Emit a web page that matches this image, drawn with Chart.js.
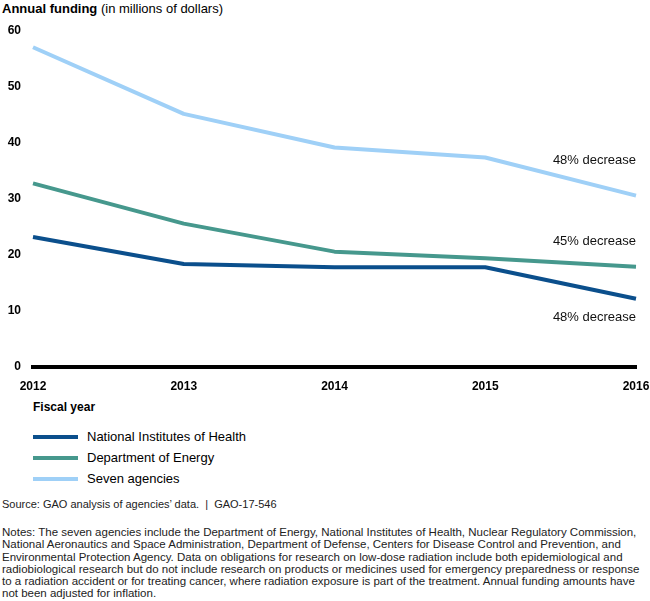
<!DOCTYPE html>
<html>
<head>
<meta charset="utf-8">
<script src="https://cdn.jsdelivr.net/npm/chart.js@4.4.1/dist/chart.umd.min.js"></script>
<style>
  body { margin: 0; width: 650px; height: 601px; position: relative; background: #fff;
         font-family: Arial, 'Liberation Sans', sans-serif; color: #000; overflow: hidden; }
  #wrap { position: absolute; left: 0; top: 0; width: 650px; height: 400px; }
  .title { position: absolute; left: 2px; top: 1px; font-size: 13px; }
  .xtitle { position: absolute; left: 33px; top: 400px; font-size: 12px; font-weight: bold; }
  .legend { position: absolute; left: 33px; top: 428px; font-size: 13px; }
  .legend div { height: 21px; line-height: 18px; }
  .legend span { display: inline-block; width: 45px; height: 4px; vertical-align: middle; margin-right: 9px; position: relative; top: -1px; }
  .source { position: absolute; left: 2px; top: 498px; font-size: 11px; color: #222; }
  .notes { position: absolute; left: 2px; top: 526px; font-size: 11.5px; line-height: 12.3px; color: #222; white-space: nowrap; }
</style>
</head>
<body>
<div class="title"><b>Annual funding</b> (in millions of dollars)</div>
<div id="wrap"><canvas id="chart" width="650" height="400"></canvas></div>
<div class="xtitle">Fiscal year</div>
<div class="legend" id="legend"></div>
<div class="source">Source: GAO analysis of agencies’ data. &nbsp;|&nbsp; GAO-17-546</div>
<div class="notes">Notes: The seven agencies include the Department of Energy, National Institutes of Health, Nuclear Regulatory Commission,<br>National Aeronautics and Space Administration, Department of Defense, Centers for Disease Control and Prevention, and<br>Environmental Protection Agency. Data on obligations for research on low-dose radiation include both epidemiological and<br>radiobiological research but do not include research on products or medicines used for emergency preparedness or response<br>to a radiation accident or for treating cancer, where radiation exposure is part of the treatment. Annual funding amounts have<br>not been adjusted for inflation.</div>

<script>
// data
const years = ['2012', '2013', '2014', '2015', '2016']
const nih = [23.2, 18.4, 17.8, 17.8, 12.2]
const doe = [32.8, 25.6, 20.6, 19.4, 17.9]
const sevenAgencies = [57.1, 45.2, 39.2, 37.4, 30.6]
const seriesNames = ['National Institutes of Health', 'Department of Energy', 'Seven agencies']
const decreases = ['48% decrease', '45% decrease', '48% decrease']
const yTicks = [0, 10, 20, 30, 40, 50, 60]

const colors = ['#0b4f8c', '#46988d', '#9fd0f7']

// legend in html
var legend = document.getElementById('legend')
seriesNames.forEach(function (name, i) {
  var row = document.createElement('div')
  row.innerHTML = '<span style="background:' + colors[i] + '"></span>' + name
  legend.appendChild(row)
})

// "xx% decrease" labels next to the last point of each line
const decreaseLabels = {
  id: 'decreaseLabels',
  afterDatasetsDraw(chart) {
    const ctx = chart.ctx
    const x = chart.scales.x
    const y = chart.scales.y
    const offsets = [19, -25, -35] // below / above the end point
    ctx.save()
    ctx.font = '13px Arial, "Liberation Sans", sans-serif'
    ctx.fillStyle = '#111'
    ctx.textAlign = 'right'
    ctx.textBaseline = 'middle'
    chart.data.datasets.forEach(function (ds, i) {
      const last = ds.data.length - 1
      ctx.fillText(decreases[i], x.getPixelForValue(last), y.getPixelForValue(ds.data[last]) + offsets[i])
    })
    ctx.restore()
  }
}

const chart = new Chart(document.getElementById('chart'), {
  type: 'line',
  data: {
    labels: years,
    datasets: [
      { label: seriesNames[0], data: nih, borderColor: colors[0], order: 2 },
      { label: seriesNames[1], data: doe, borderColor: colors[1], order: 1 },
      { label: seriesNames[2], data: sevenAgencies, borderColor: colors[2], order: 0 }
    ]
  },
  options: {
    animation: false,
    responsive: false,
    events: [],
    layout: { padding: { top: 31, right: 0, left: 0, bottom: 0 } },
    elements: {
      line: { borderWidth: 4, tension: 0, borderCapStyle: 'butt', borderJoinStyle: 'round' },
      point: { radius: 0 }
    },
    plugins: { legend: { display: false }, tooltip: { enabled: false } },
    scales: {
      x: {
        grid: { display: false, drawTicks: false },
        border: { display: true, color: '#000', width: 4 },
        ticks: {
          color: '#000', padding: 12, maxRotation: 0,
          font: { family: 'Arial, "Liberation Sans", sans-serif', size: 12, weight: 'bold' }
        },
        afterFit(scale) {
          scale.height = 33
          scale.paddingLeft = 0
          scale.paddingRight = 14
        }
      },
      y: {
        min: 0, max: 60,
        grid: { display: false, drawTicks: false },
        border: { display: false },
        afterBuildTicks(scale) { scale.ticks = yTicks.map(v => ({ value: v })) },
        ticks: {
          color: '#000', padding: 12,
          font: { family: 'Arial, "Liberation Sans", sans-serif', size: 12, weight: 'bold' }
        },
        afterFit(scale) { scale.width = 33 }
      }
    }
  },
  plugins: [decreaseLabels]
})
</script>
</body>
</html>
